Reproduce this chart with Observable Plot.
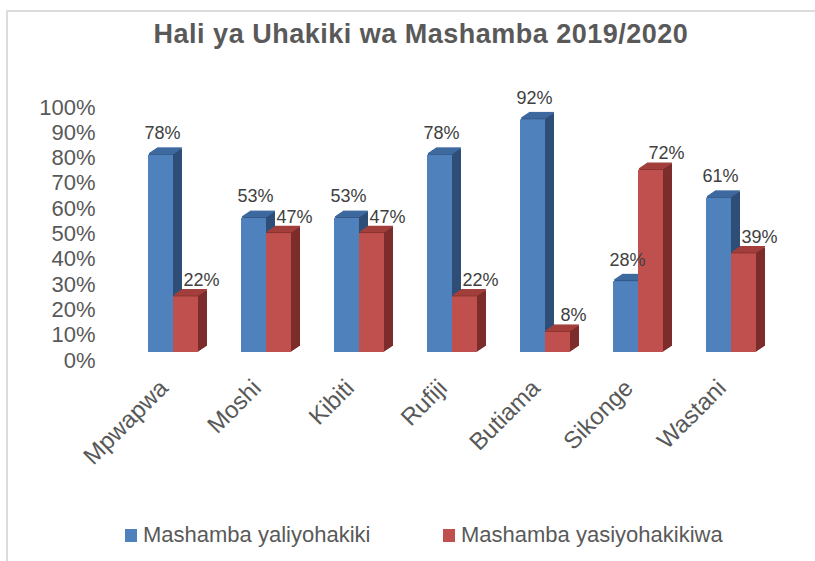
<!DOCTYPE html>
<html>
<head>
<meta charset="utf-8">
<script src="https://cdn.jsdelivr.net/npm/d3@7"></script>
<script src="https://cdn.jsdelivr.net/npm/@observablehq/plot@0.6"></script>
<style>
  html, body { margin: 0; padding: 0; background: #fff; }
  #wrap { position: relative; width: 815px; height: 561px; overflow: hidden; font-family: "Liberation Sans", Arial, sans-serif; color: #595959; }
  #frame { position: absolute; left: 6px; top: 10px; right: -10px; bottom: -10px; border-left: 2px solid #dcdcdc; border-top: 2px solid #dcdcdc; }
  #title { position: absolute; left: 0; width: 842px; top: 19px; text-align: center; font-weight: bold; font-size: 27px; letter-spacing: 0.5px; line-height: 30px; }
  #chart { position: absolute; left: 0; top: 0; }
  .leg { position: absolute; top: 523px; font-size: 22px; line-height: 24px; display: flex; align-items: center; }
  .sw { width: 12px; height: 13px; margin-right: 6px; }
</style>
</head>
<body>
<div id="wrap">
  <div id="frame"></div>
  <div id="title"></div>
  <div id="chart"></div>
  <div class="leg" id="leg0" style="left:125px"></div>
  <div class="leg" id="leg1" style="left:443px"></div>
</div>
<script>
const titleText = "Hali ya Uhakiki wa Mashamba 2019/2020";
const categories = ["Mpwapwa", "Moshi", "Kibiti", "Rufiji", "Butiama", "Sikonge", "Wastani"];
const verified = [78, 53, 53, 78, 92, 28, 61];
const unverified = [22, 47, 47, 22, 8, 72, 39];
const seriesNames = ["Mashamba yaliyohakiki", "Mashamba yasiyohakikiwa"];
const yTicks = [0, 10, 20, 30, 40, 50, 60, 70, 80, 90, 100];

const colors = {
  blue: "#4f81bd", blueSide: "#2f4e77", blueTop: "#3e6aa0",
  red: "#c0504d", redSide: "#7c2c2a", redTop: "#a33f3c"
};

const data = categories.map((c, i) => ({c, a: verified[i], b: unverified[i]}));

const base = -8;     // front face lifted above the floor line
const depth = 9;     // 3D depth layers
const marks = [];
for (let k = depth; k >= 1; k--) {
  const dx = k, dy = base - 0.67 * k;
  marks.push(Plot.barY(data, {x: "c", y: "a", insetRight: 25, dx, dy, fill: colors.blueSide}));
  marks.push(Plot.barY(data, {x: "c", y1: "a", y2: "a", insetRight: 25, insetTop: -1.3, dx, dy, fill: colors.blueTop}));
  marks.push(Plot.barY(data, {x: "c", y: "b", insetLeft: 25, dx, dy, fill: colors.redSide}));
  marks.push(Plot.barY(data, {x: "c", y1: "b", y2: "b", insetLeft: 25, insetTop: -1.3, dx, dy, fill: colors.redTop}));
}
marks.push(Plot.barY(data, {x: "c", y: "a", insetRight: 25, dy: base, fill: colors.blue}));
marks.push(Plot.barY(data, {x: "c", y: "b", insetLeft: 25, dy: base, fill: colors.red}));
marks.push(Plot.text(data, {x: "c", y: "a", text: d => d.a + "%", dx: -11, dy: base - 16, lineAnchor: "bottom", fontSize: 18, fill: "#404040"}));
marks.push(Plot.text(data, {x: "c", y: "b", text: d => d.b + "%", dx: 28, dy: base - 11, lineAnchor: "bottom", fontSize: 18, fill: "#404040"}));
// category labels (x axis, rotated)
marks.push(Plot.text(categories, {x: d => d, text: d => d, frameAnchor: "bottom", rotate: -45, textAnchor: "end", lineAnchor: "top", dx: -16, dy: 17, fontSize: 24, fill: "#595959"}));

const chart = Plot.plot({
  width: 815,
  height: 480,
  marginTop: 107,
  marginBottom: 120,
  marginLeft: 105,
  marginRight: 16,
  style: {fontFamily: "Liberation Sans, Arial, sans-serif", fontSize: "22px", color: "#595959", background: "transparent", overflow: "visible"},
  x: {domain: categories, padding: 0.462, axis: null},
  y: {domain: [0, 100], ticks: yTicks, tickFormat: d => d + "%", label: null, tickSize: 0, tickPadding: 10},
  marks
});
document.getElementById("chart").appendChild(chart);
document.getElementById("title").textContent = titleText;
[["leg0", colors.blue], ["leg1", colors.red]].forEach(([id, col], i) => {
  const el = document.getElementById(id);
  const sw = document.createElement("span"); sw.className = "sw"; sw.style.background = col;
  const tx = document.createElement("span"); tx.textContent = seriesNames[i];
  el.appendChild(sw); el.appendChild(tx);
});
</script>
</body>
</html>
